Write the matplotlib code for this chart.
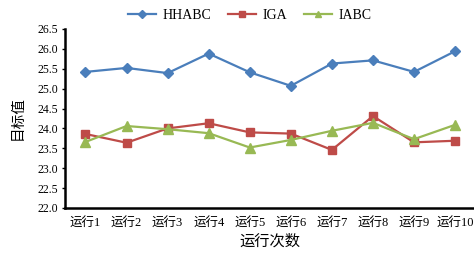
import matplotlib
matplotlib.use("Agg")
import matplotlib.pyplot as plt

runs = ["运行1", "运行2", "运行3", "运行4", "运行5", "运行6", "运行7", "运行8", "运行9", "运行10"]
hhabc = [25.42, 25.52, 25.39, 25.88, 25.41, 25.07, 25.63, 25.71, 25.42, 25.94]
iga = [23.86, 23.64, 24.00, 24.13, 23.90, 23.87, 23.46, 24.31, 23.65, 23.69]
iabc = [23.66, 24.06, 23.98, 23.88, 23.52, 23.71, 23.94, 24.14, 23.73, 24.09]
yticks = [22.0, 22.5, 23.0, 23.5, 24.0, 24.5, 25.0, 25.5, 26.0, 26.5]

fam = ["Liberation Serif", "Noto Sans CJK SC", "DejaVu Sans"]
plt.rcParams["font.family"] = fam

fig = plt.figure(figsize=(4.74, 2.56), dpi=100)
ax = fig.add_axes([0.137, 0.1875, 0.863, 0.6995])
x = list(range(len(runs)))
ax.plot(x, hhabc, color="#4a7ebb", lw=1.6, marker="D", ms=5, label="HHABC")
ax.plot(x, iga, color="#be4b48", lw=1.6, marker="s", ms=6, label="IGA")
ax.plot(x, iabc, color="#98b954", lw=1.6, marker="^", ms=6.5, label="IABC")

ax.set_xlim(-0.5, 9.46)
ax.set_ylim(22.0, 26.5)
ax.set_yticks(yticks)
ax.set_yticklabels([f"{v:.1f}" for v in yticks], fontsize=8.5)
ax.set_xticks(x)
ax.set_xticklabels(runs, fontsize=9)
ax.tick_params(axis="x", length=0, pad=6)
ax.tick_params(axis="y", length=2, width=1, pad=3)
for s in ["top", "right"]:
    ax.spines[s].set_visible(False)
for s in ["left", "bottom"]:
    ax.spines[s].set_linewidth(1.8)
    ax.spines[s].set_color("black")

ax.set_ylabel("目标值", fontsize=10.5, labelpad=9)
ax.set_xlabel("运行次数", fontsize=11, labelpad=4)

fig.legend(loc="center", bbox_to_anchor=(0.527, 0.94), ncol=3, frameon=False,
           fontsize=10, handlelength=2.0, columnspacing=1.2, handletextpad=0.5,
           markerscale=0.75)

fig.savefig("out.png", dpi=100)
